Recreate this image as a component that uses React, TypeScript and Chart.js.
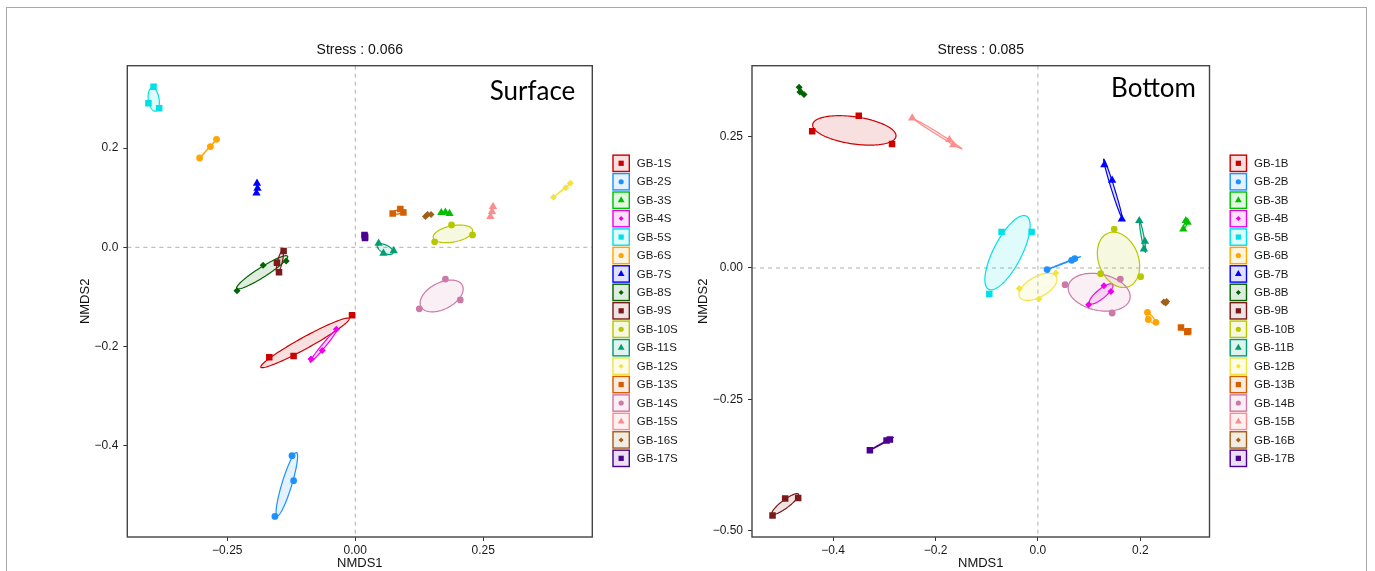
import React, { useEffect, useRef } from "react";
import { Chart, registerables } from "chart.js";

Chart.register(...registerables);

const FONT = "'Liberation Sans', Arial, Helvetica, sans-serif";

// ---------- data ----------
const surfaceGroups = ["GB-1S", "GB-2S", "GB-3S", "GB-4S", "GB-5S", "GB-6S", "GB-7S", "GB-8S", "GB-9S", "GB-10S", "GB-11S", "GB-12S", "GB-13S", "GB-14S", "GB-15S", "GB-16S", "GB-17S"];
const bottomGroups = ["GB-1B", "GB-2B", "GB-3B", "GB-4B", "GB-5B", "GB-6B", "GB-7B", "GB-8B", "GB-9B", "GB-10B", "GB-11B", "GB-12B", "GB-13B", "GB-14B", "GB-15B", "GB-16B", "GB-17B"];

const groupColors = ["#CD0000", "#1E90FF", "#00C000", "#EE00EE", "#00E0E8", "#FFA500", "#0000FF", "#006400", "#7A1A1A", "#B8C800", "#009E73", "#F0E442", "#D55E00", "#CC79A7", "#FF8C8C", "#A0601A", "#4B0090"];
const groupShapes = ["rect", "circle", "triangle", "rectRot", "rect", "circle", "triangle", "rectRot", "rect", "circle", "triangle", "rectRot", "rect", "circle", "triangle", "rectRot", "rect"];

// NMDS1 / NMDS2 of the three samples of each group
const surfaceNMDS1 = [
  [-0.168, -0.1205, -0.0064],
  [-0.1236, -0.1205, -0.157],
  [0.168, 0.176, 0.184],
  [-0.0865, -0.0645, -0.037],
  [-0.394, -0.404, -0.383],
  [-0.304, -0.283, -0.271],
  [-0.192, -0.191, -0.193],
  [-0.231, -0.18, -0.135],
  [-0.14, -0.153, -0.149],
  [0.155, 0.188, 0.229],
  [0.0455, 0.055, 0.075],
  [0.387, 0.411, 0.42],
  [0.073, 0.088, 0.094],
  [0.176, 0.205, 0.125],
  [0.264, 0.267, 0.269],
  [0.137, 0.141, 0.148],
  [0.018, 0.019, 0.019],
];
const surfaceNMDS2 = [
  [-0.2215, -0.219, -0.137],
  [-0.4197, -0.47, -0.542],
  [0.0697, 0.0705, 0.068],
  [-0.225, -0.208, -0.165],
  [0.3235, 0.29, 0.28],
  [0.18, 0.203, 0.2175],
  [0.129, 0.119, 0.109],
  [-0.0874, -0.0363, -0.0276],
  [-0.0075, -0.031, -0.05],
  [0.011, 0.045, 0.025],
  [0.008, -0.012, -0.007],
  [0.101, 0.12, 0.129],
  [0.068, 0.077, 0.07],
  [-0.064, -0.106, -0.124],
  [0.062, 0.072, 0.082],
  [0.062, 0.066, 0.066],
  [0.025, 0.022, 0.019],
];
const bottomNMDS1 = [
  [-0.441, -0.35, -0.285],
  [0.018, 0.066, 0.072],
  [0.284, 0.289, 0.2925],
  [0.099, 0.129, 0.1427],
  [-0.071, -0.0123, -0.095],
  [0.214, 0.2157, 0.2306],
  [0.1296, 0.145, 0.164],
  [-0.4665, -0.465, -0.457],
  [-0.5185, -0.4938, -0.4684],
  [0.149, 0.1225, 0.2007],
  [0.198, 0.209, 0.207],
  [-0.0365, 0.002, 0.035],
  [0.2795, 0.2918, 0.2937],
  [0.053, 0.161, 0.145],
  [-0.2456, -0.173, -0.1655],
  [0.246, 0.2496, 0.2515],
  [-0.3283, -0.2957, -0.2892],
];
const bottomNMDS2 = [
  [0.26, 0.2895, 0.2357],
  [-0.003, 0.0145, 0.018],
  [0.074, 0.09, 0.0867],
  [-0.0698, -0.0336, -0.0445],
  [0.0684, 0.0684, -0.0494],
  [-0.0844, -0.098, -0.1034],
  [0.196, 0.1666, 0.093],
  [0.344, 0.3346, 0.33],
  [-0.4709, -0.4386, -0.4373],
  [0.074, -0.0108, -0.0165],
  [0.09, 0.0506, 0.036],
  [-0.039, -0.059, -0.0095],
  [-0.113, -0.1217, -0.1205],
  [-0.0317, -0.021, -0.0856],
  [0.285, 0.244, 0.2344],
  [-0.0646, -0.0665, -0.0635],
  [-0.3468, -0.3283, -0.3264],
];

const surfaceStress = "Stress : 0.066";
const bottomStress = "Stress : 0.085";

const surfaceXTicks = [-0.25, 0, 0.25];
const surfaceXTickLabels = ["\u22120.25", "0.00", "0.25"];
const surfaceYTicks = [-0.4, -0.2, 0, 0.2];
const surfaceYTickLabels = ["\u22120.4", "\u22120.2", "0.0", "0.2"];
const bottomXTicks = [-0.4, -0.2, 0, 0.2];
const bottomXTickLabels = ["\u22120.4", "\u22120.2", "0.0", "0.2"];
const bottomYTicks = [-0.5, -0.25, 0, 0.25];
const bottomYTickLabels = ["\u22120.50", "\u22120.25", "0.00", "0.25"];

const surfaceXRange = [-0.4453, 0.4629];
const surfaceYRange = [-0.5835, 0.3658];
const bottomXRange = [-0.5586, 0.3352];
const bottomYRange = [-0.5117, 0.3848];

// ---------- helpers ----------
const markerRadius: Record<string, number> = { rect: 4.6, circle: 3.4, triangle: 4.8, rectRot: 3.5 };
const legendMarkerRadius: Record<string, number> = { rect: 3.7, circle: 2.6, triangle: 3.9, rectRot: 2.5 };
const ELLIPSE_SCALE = 0.9;

function rgba(hex: string, a: number) {
  const n = parseInt(hex.slice(1), 16);
  return `rgba(${(n >> 16) & 255},${(n >> 8) & 255},${n & 255},${a})`;
}

function drawShape(ctx: CanvasRenderingContext2D, style: string, x: number, y: number, r: number) {
  ctx.beginPath();
  if (style === "circle") {
    ctx.arc(x, y, r, 0, Math.PI * 2);
  } else if (style === "rect") {
    const s = r * Math.SQRT1_2;
    ctx.rect(x - s, y - s, 2 * s, 2 * s);
  } else if (style === "triangle") {
    ctx.moveTo(x, y - r);
    ctx.lineTo(x + 0.866 * r, y + 0.5 * r);
    ctx.lineTo(x - 0.866 * r, y + 0.5 * r);
    ctx.closePath();
  } else {
    ctx.moveTo(x - r, y);
    ctx.lineTo(x, y - r);
    ctx.lineTo(x + r, y);
    ctx.lineTo(x, y + r);
    ctx.closePath();
  }
  ctx.fill();
}

const decorPlugin = {
  id: "panelDecor",
  beforeDatasetsDraw(chart: any) {
    const { ctx, chartArea: a, scales } = chart;
    const xs = scales.x;
    const ys = scales.y;
    ctx.save();
    ctx.beginPath();
    ctx.rect(a.left, a.top, a.right - a.left, a.bottom - a.top);
    ctx.clip();
    // zero reference lines
    ctx.setLineDash([4, 4]);
    ctx.strokeStyle = "#b0b0b0";
    ctx.lineWidth = 1;
    const x0 = xs.getPixelForValue(0);
    const y0 = ys.getPixelForValue(0);
    ctx.beginPath();
    ctx.moveTo(x0, a.top);
    ctx.lineTo(x0, a.bottom);
    ctx.moveTo(a.left, y0);
    ctx.lineTo(a.right, y0);
    ctx.stroke();
    ctx.setLineDash([]);
    // group ellipses (Steiner circum-ellipse of the three samples, scaled)
    chart.data.datasets.forEach((ds: any, i: number) => {
      const p = ds.data;
      if (p.length < 3) return;
      const gx = (p[0].x + p[1].x + p[2].x) / 3;
      const gy = (p[0].y + p[1].y + p[2].y) / 3;
      const ax = p[0].x - gx;
      const ay = p[0].y - gy;
      const bx = (p[1].x - p[2].x) / Math.sqrt(3);
      const by = (p[1].y - p[2].y) / Math.sqrt(3);
      ctx.beginPath();
      const N = 120;
      for (let k = 0; k <= N; k++) {
        const t = (2 * Math.PI * k) / N;
        const vx = gx + ELLIPSE_SCALE * (ax * Math.cos(t) + bx * Math.sin(t));
        const vy = gy + ELLIPSE_SCALE * (ay * Math.cos(t) + by * Math.sin(t));
        const px = xs.getPixelForValue(vx);
        const py = ys.getPixelForValue(vy);
        if (k === 0) ctx.moveTo(px, py);
        else ctx.lineTo(px, py);
      }
      ctx.closePath();
      ctx.fillStyle = rgba(groupColors[i], 0.12);
      ctx.fill();
      ctx.strokeStyle = groupColors[i];
      ctx.lineWidth = 1.2;
      ctx.stroke();
    });
    ctx.restore();
  },
  afterDraw(chart: any, _args: any, opts: any) {
    const { ctx, chartArea: a } = chart;
    ctx.save();
    // panel frame
    ctx.strokeStyle = "#444";
    ctx.lineWidth = 1.4;
    ctx.strokeRect(a.left, a.top, a.right - a.left, a.bottom - a.top);
    // inset label
    ctx.fillStyle = "#000";
    ctx.font = `26px Lato, 'Noto Sans', sans-serif`;
    ctx.textAlign = "right";
    ctx.textBaseline = "alphabetic";
    ctx.fillText(opts.label, a.right - opts.labelInset, a.top + opts.labelBase);
    // legend
    const boxLeft = a.right + 20;
    const box = 17.7;
    const step = 18.44;
    const firstY = 163.3;
    ctx.font = `11.5px ${FONT}`;
    ctx.textAlign = "left";
    ctx.textBaseline = "middle";
    opts.groups.forEach((g: string, i: number) => {
      const cy = firstY + i * step;
      const col = groupColors[i];
      ctx.fillStyle = rgba(col, 0.12);
      ctx.fillRect(boxLeft, cy - box / 2, box, box);
      ctx.strokeStyle = col;
      ctx.lineWidth = 1.4;
      ctx.strokeRect(boxLeft + 0.7, cy - box / 2 + 0.7, box - 1.4, box - 1.4);
      ctx.fillStyle = col;
      drawShape(ctx, groupShapes[i], boxLeft + box / 2, cy, legendMarkerRadius[groupShapes[i]]);
      ctx.fillStyle = "#1a1a1a";
      ctx.fillText(g, boxLeft + 24.5, cy + 0.5);
    });
    ctx.restore();
  },
};

type PanelSpec = {
  groups: string[];
  nmds1: number[][];
  nmds2: number[][];
  stress: string;
  label: string;
  labelInset: number;
  labelBase: number;
  xTicks: number[];
  xTickLabels: string[];
  yTicks: number[];
  yTickLabels: string[];
  xRange: number[];
  yRange: number[];
  yAxisWidth: number;
  padRight: number;
  yTitlePad: number;
};

function buildConfig(p: PanelSpec): any {
  const datasets = p.groups.map((g, i) => ({
    label: g,
    data: p.nmds1[i].map((v, j) => ({ x: v, y: p.nmds2[i][j] })),
    pointStyle: groupShapes[i],
    pointRadius: markerRadius[groupShapes[i]],
    pointHoverRadius: markerRadius[groupShapes[i]],
    backgroundColor: groupColors[i],
    borderColor: groupColors[i],
    pointBorderWidth: 0,
    borderWidth: 0,
  }));
  const tickFont = { family: FONT, size: 12 };
  return {
    type: "scatter",
    data: { datasets },
    options: {
      animation: false,
      responsive: false,
      maintainAspectRatio: false,
      events: [],
      layout: { padding: { left: 0, right: p.padRight, top: 0, bottom: 0 } },
      plugins: {
        legend: { display: false },
        tooltip: { enabled: false },
        title: {
          display: true,
          text: p.stress,
          fullSize: false,
          color: "#111",
          font: { family: FONT, size: 14, weight: "normal" },
          padding: { top: 41.4, bottom: 7.5 },
        },
        panelDecor: { label: p.label, labelInset: p.labelInset, labelBase: p.labelBase, groups: p.groups },
      },
      scales: {
        x: {
          type: "linear",
          position: "bottom",
          min: p.xRange[0],
          max: p.xRange[1],
          afterBuildTicks: (s: any) => {
            s.ticks = p.xTicks.map((v) => ({ value: v }));
          },
          afterFit: (s: any) => {
            s.height = 34;
          },
          ticks: {
            autoSkip: false,
            maxRotation: 0,
            padding: 2,
            color: "#1a1a1a",
            font: tickFont,
            callback: (v: number) => p.xTickLabels[p.xTicks.indexOf(v)],
          },
          grid: { drawOnChartArea: false, drawTicks: true, tickLength: 4, tickColor: "#333", tickWidth: 1 },
          border: { display: false },
          title: { display: true, text: "NMDS1", color: "#111", font: { family: FONT, size: 13 }, padding: { top: 0, bottom: 0 } },
        },
        y: {
          type: "linear",
          position: "left",
          min: p.yRange[0],
          max: p.yRange[1],
          afterBuildTicks: (s: any) => {
            s.ticks = p.yTicks.map((v) => ({ value: v }));
          },
          afterFit: (s: any) => {
            s.width = p.yAxisWidth;
          },
          ticks: {
            autoSkip: false,
            padding: 5,
            color: "#1a1a1a",
            font: tickFont,
            callback: (v: number) => p.yTickLabels[p.yTicks.indexOf(v)],
          },
          grid: { drawOnChartArea: false, drawTicks: true, tickLength: 4, tickColor: "#333", tickWidth: 1 },
          border: { display: false },
          title: { display: true, text: "NMDS2", color: "#111", font: { family: FONT, size: 13 }, padding: { top: p.yTitlePad, bottom: 0 } },
        },
      },
    },
    plugins: [decorPlugin],
  };
}

const surfaceSpec: PanelSpec = {
  groups: surfaceGroups,
  nmds1: surfaceNMDS1,
  nmds2: surfaceNMDS2,
  stress: surfaceStress,
  label: "Surface",
  labelInset: 17,
  labelBase: 34,
  xTicks: surfaceXTicks,
  xTickLabels: surfaceXTickLabels,
  yTicks: surfaceYTicks,
  yTickLabels: surfaceYTickLabels,
  xRange: surfaceXRange,
  yRange: surfaceYRange,
  yAxisWidth: 127.3,
  padRight: 690 - 592.3,
  yTitlePad: 77.2,
};

const bottomSpec: PanelSpec = {
  groups: bottomGroups,
  nmds1: bottomNMDS1,
  nmds2: bottomNMDS2,
  stress: bottomStress,
  label: "Bottom",
  labelInset: 13.5,
  labelBase: 31,
  xTicks: bottomXTicks,
  xTickLabels: bottomXTickLabels,
  yTicks: bottomYTicks,
  yTickLabels: bottomYTickLabels,
  xRange: bottomXRange,
  yRange: bottomYRange,
  yAxisWidth: 62,
  padRight: 685 - 519.5,
  yTitlePad: 5.5,
};

function Panel({ spec, left, width }: { spec: PanelSpec; left: number; width: number }) {
  const ref = useRef<HTMLCanvasElement | null>(null);
  useEffect(() => {
    if (!ref.current) return;
    const chart = new Chart(ref.current, buildConfig(spec));
    return () => chart.destroy();
  }, [spec]);
  return (
    <canvas
      ref={ref}
      width={width}
      height={571}
      style={{ position: "absolute", left, top: 0, width, height: 571 }}
    />
  );
}

export default function App() {
  return (
    <div style={{ position: "absolute", left: 0, top: 0, width: 1375, height: 571, overflow: "hidden", background: "#fff" }}>
      <div
        style={{
          position: "absolute",
          left: 6,
          top: 7,
          width: 1361,
          height: 600,
          border: "1px solid #a8a8a8",
          boxSizing: "border-box",
        }}
      />
      <Panel spec={surfaceSpec} left={0} width={690} />
      <Panel spec={bottomSpec} left={690} width={685} />
    </div>
  );
}
